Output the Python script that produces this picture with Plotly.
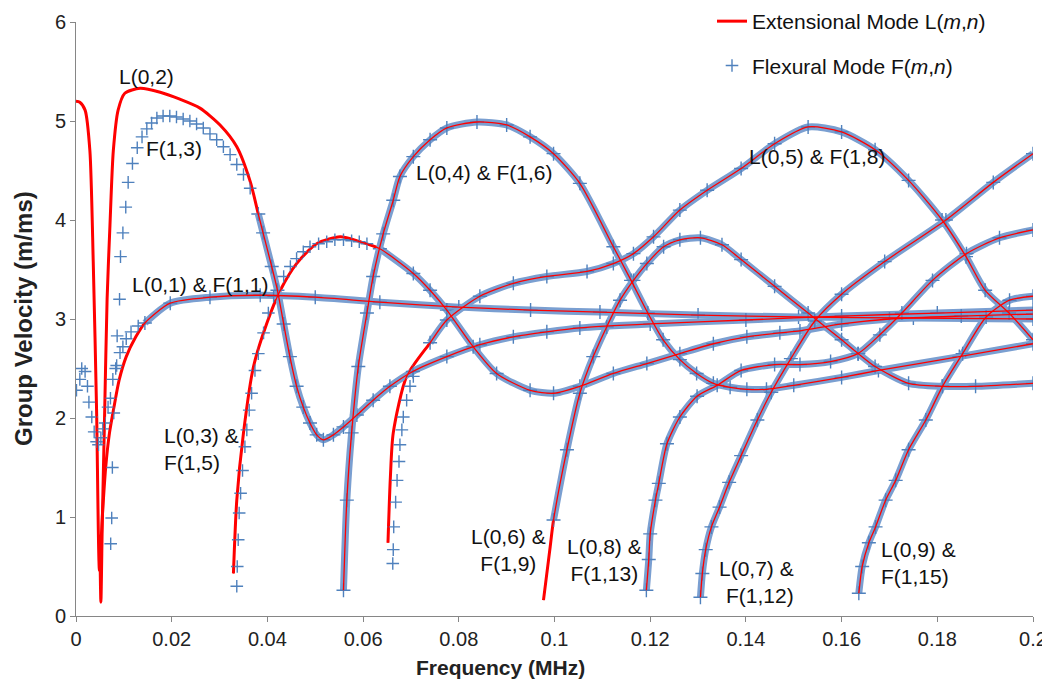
import plotly.graph_objects as go

# ---------------- data: frequency (MHz) vs group velocity (m/ms) ----------------
# Extensional (red) modes
l01_x = [0, 0.0008, 0.0019, 0.0029, 0.0036, 0.0043, 0.0049, 0.0055, 0.0062, 0.0070, 0.0079, 0.0090, 0.0105, 0.0125,
         0.0144, 0.0197, 0.028, 0.0385, 0.05, 0.0635, 0.08, 0.095, 0.1095, 0.13, 0.151, 0.175, 0.2]
l01_y = [5.2, 5.19, 5.11, 4.7, 3.58, 2.08, 0.46, 1.0, 1.5, 1.85, 2.1, 2.38, 2.62, 2.82,
         2.96, 3.16, 3.22, 3.24, 3.22, 3.17, 3.12, 3.09, 3.07, 3.04, 3.02, 3.01, 3.0]

l02_x = [0.0050, 0.0052, 0.0055, 0.0060, 0.0065, 0.0071, 0.0078, 0.0088, 0.0102, 0.0134, 0.0176, 0.0217, 0.0259,
         0.0301, 0.0336, 0.0364, 0.0381, 0.0391, 0.0409, 0.0421, 0.0434, 0.0447, 0.0461, 0.0475, 0.0489, 0.0503,
         0.0517, 0.0538, 0.0559, 0.0587, 0.0621, 0.0656, 0.0704, 0.0775, 0.0844, 0.0914, 0.0984, 0.1053, 0.12,
         0.14, 0.16, 0.18, 0.2]
l02_y = [0.7, 0.14, 0.96, 2.08, 3.2, 3.95, 4.7, 5.11, 5.28, 5.33, 5.29, 5.22, 5.13,
         4.96, 4.74, 4.39, 4.06, 3.87, 3.53, 3.29, 2.95, 2.62, 2.32, 2.11, 1.95, 1.83,
         1.78, 1.83, 1.91, 2.03, 2.18, 2.32, 2.47, 2.62, 2.74, 2.82, 2.87, 2.91, 2.95,
         2.99, 3.03, 3.06, 3.09]

l03_x = [0.0329, 0.0336, 0.035, 0.0371, 0.0399, 0.0427, 0.0461, 0.0503, 0.0552, 0.0594, 0.0635, 0.0705, 0.074,
         0.0775, 0.083, 0.0879, 0.0949, 0.0998, 0.1053, 0.1123, 0.1193, 0.1262, 0.1332, 0.1402, 0.1471, 0.1513,
         0.16, 0.17, 0.185, 0.2]
l03_y = [0.43, 1.17, 1.85, 2.52, 2.96, 3.29, 3.56, 3.76, 3.83, 3.78, 3.71, 3.46, 3.29,
         3.09, 2.72, 2.45, 2.28, 2.25, 2.32, 2.45, 2.55, 2.65, 2.75, 2.82, 2.86, 2.88,
         2.95, 3.0, 3.03, 3.05]

l04_x = [0.0559, 0.0566, 0.0576, 0.059, 0.0608, 0.0621, 0.0642, 0.0663, 0.0677, 0.0705, 0.074, 0.0775, 0.0838,
         0.09, 0.0949, 0.0998, 0.1053, 0.1123, 0.116, 0.1195, 0.1227, 0.1262, 0.1297, 0.1332, 0.1367, 0.1402,
         0.1443, 0.15, 0.16, 0.1677, 0.1846, 0.2]
l04_y = [0.26, 1.17, 1.85, 2.52, 3.06, 3.43, 3.86, 4.2, 4.44, 4.64, 4.81, 4.93, 4.99,
         4.96, 4.84, 4.67, 4.37, 3.73, 3.39, 3.06, 2.79, 2.59, 2.45, 2.35, 2.31, 2.29,
         2.29, 2.33, 2.41, 2.48, 2.62, 2.75]

l05_x = [0.0652, 0.0657, 0.0663, 0.0691, 0.074, 0.0775, 0.0844, 0.0914, 0.0984, 0.1068, 0.1123, 0.1165, 0.1207,
         0.1262, 0.1319, 0.139, 0.146, 0.153, 0.160, 0.167, 0.174, 0.181, 0.186, 0.190, 0.195, 0.2]
l05_y = [0.74, 1.4, 1.85, 2.42, 2.76, 2.99, 3.23, 3.36, 3.43, 3.48, 3.56, 3.66, 3.83,
         4.10, 4.30, 4.52, 4.77, 4.94, 4.89, 4.71, 4.40, 4.0, 3.63, 3.29, 3.06, 2.79]

l06_x = [0.0977, 0.0984, 0.0991, 0.0998, 0.1026, 0.1053, 0.1081, 0.1109, 0.1137, 0.1165, 0.1193, 0.1228, 0.1262,
         0.1305, 0.135, 0.139, 0.146, 0.153, 0.160, 0.1635, 0.167, 0.174, 0.181, 0.188, 0.2]
l06_y = [0.16, 0.43, 0.70, 0.97, 1.68, 2.25, 2.62, 2.92, 3.19, 3.39, 3.56, 3.73, 3.8,
         3.82, 3.75, 3.6, 3.33, 3.06, 2.79, 2.65, 2.52, 2.35, 2.32, 2.32, 2.35]

l07_x = [0.1305, 0.1309, 0.1316, 0.1328, 0.1345, 0.1365, 0.139, 0.1424, 0.1453, 0.1494, 0.1544, 0.160, 0.169,
         0.1818, 0.1917, 0.2]
l07_y = [0.19, 0.43, 0.67, 0.9, 1.1, 1.35, 1.62, 1.98, 2.26, 2.6, 2.98, 3.25, 3.58,
         4.0, 4.38, 4.67]

l08_x = [0.1192, 0.1197, 0.1200, 0.1211, 0.1218, 0.1235, 0.1262, 0.1298, 0.134, 0.139, 0.146, 0.1513, 0.1577,
         0.1634, 0.168, 0.1726, 0.179, 0.1861, 0.193, 0.2]
l08_y = [0.26, 0.57, 0.83, 1.17, 1.34, 1.74, 2.01, 2.22, 2.33, 2.48, 2.54, 2.54, 2.57,
         2.65, 2.84, 3.06, 3.39, 3.66, 3.82, 3.9]

l09_x = [0.1636, 0.1643, 0.1657, 0.1671, 0.1692, 0.1713, 0.174, 0.1776, 0.1811, 0.1853, 0.1902, 0.1951, 0.2]
l09_y = [0.23, 0.50, 0.74, 0.9, 1.17, 1.37, 1.68, 1.98, 2.32, 2.65, 3.02, 3.19, 3.23]

# Flexural (blue) modes: where they separate from the extensional curve
f11_head_x = [0.0001, 0.0008, 0.0012, 0.0019, 0.0024, 0.0027, 0.0033, 0.0038, 0.0043, 0.0047, 0.0052, 0.0056,
              0.0061, 0.0067, 0.0072, 0.0077, 0.0085, 0.0092, 0.0098, 0.0105, 0.0115, 0.013]
f11_head_y = [2.28, 2.39, 2.5, 2.47, 2.32, 2.16, 2.01, 1.86, 1.76, 1.73, 1.80, 1.89,
              1.95, 2.11, 2.2, 2.39, 2.53, 2.66, 2.72, 2.8, 2.87, 2.93]

f13_head_x = [0.00725, 0.00746, 0.0076, 0.0079, 0.0083, 0.0086, 0.0091, 0.0093, 0.0098, 0.0104, 0.0109, 0.0118,
              0.0128, 0.0138, 0.0148, 0.0158, 0.0169, 0.0182, 0.0196, 0.021, 0.0224, 0.0238, 0.0252, 0.0266,
              0.028, 0.0294, 0.0308, 0.0322, 0.0336, 0.035, 0.0364]
f13_head_y = [0.73, 0.99, 1.50, 2.05, 2.5, 2.83, 3.2, 3.63, 3.87, 4.13, 4.38, 4.57,
              4.73, 4.84, 4.92, 4.98, 5.03, 5.05, 5.05, 5.04, 5.02, 5.0, 4.97, 4.93,
              4.87, 4.81, 4.74, 4.66, 4.56, 4.46, 4.32]

f15_head_x = [0.0336, 0.0337, 0.0339, 0.0341, 0.0344, 0.0348, 0.0353, 0.0357, 0.0362, 0.0367, 0.0374, 0.0381,
              0.0392, 0.0402, 0.0413, 0.0434, 0.0448, 0.0461, 0.0475, 0.0489, 0.0507, 0.0524, 0.0541, 0.0559,
              0.0576, 0.0592, 0.0608]
f15_head_y = [0.30, 0.5, 0.77, 1.04, 1.24, 1.47, 1.71, 1.88, 2.08, 2.25, 2.48, 2.65,
              2.86, 3.06, 3.23, 3.43, 3.53, 3.61, 3.68, 3.73, 3.76, 3.78, 3.80, 3.80,
              3.79, 3.78, 3.76]

f18_head_x = [0.0662, 0.0663, 0.0664, 0.0668, 0.0671, 0.0675, 0.0677, 0.0681, 0.0684, 0.0691, 0.0698, 0.0705]
f18_head_y = [0.53, 0.67, 0.90, 1.15, 1.37, 1.56, 1.73, 1.88, 2.01, 2.18, 2.32, 2.42]

# Mode labels
label_text = ["L(0,2)", "F(1,3)", "L(0,1) & F(1,1)", "L(0,3) &<br>F(1,5)", "L(0,4) & F(1,6)",
              "L(0,5) & F(1,8)", "L(0,6) &<br>F(1,9)", "L(0,8) &<br>F(1,13)", "L(0,7) &<br>F(1,12)",
              "L(0,9) &<br>F(1,15)"]
label_x = [0.0148, 0.0204, 0.0261, 0.0180, 0.0853, 0.1549, 0.0903, 0.1104, 0.1505, 0.1678]
label_y = [5.45, 4.72, 3.35, 1.69, 4.48, 4.64, 0.67, 0.57, 0.34, 0.535]
label_anchor = ["center", "center", "center", "left", "center", "center", "center", "center", "right", "left"]

x_ticks = [0, 0.02, 0.04, 0.06, 0.08, 0.1, 0.12, 0.14, 0.16, 0.18, 0.2]
x_tick_text = ["0", "0.02", "0.04", "0.06", "0.08", "0.1", "0.12", "0.14", "0.16", "0.18", "0.2"]
y_ticks = [0, 1, 2, 3, 4, 5, 6]

RED = "#FF0000"
BLUE = "#4F81BD"
BAND = "#7A9FD1"


def tail(xs, ys, x0):
    pts = [(a, b) for a, b in zip(xs, ys) if a >= x0]
    return [p[0] for p in pts], [p[1] for p in pts]


red_curves = [(l01_x, l01_y), (l02_x, l02_y), (l03_x, l03_y), (l04_x, l04_y), (l05_x, l05_y),
              (l06_x, l06_y), (l07_x, l07_y), (l08_x, l08_y), (l09_x, l09_y)]

blue_bands = [tail(l01_x, l01_y, 0.0144), tail(l02_x, l02_y, 0.0381), tail(l03_x, l03_y, 0.0635),
              (l04_x, l04_y), tail(l05_x, l05_y, 0.074), tail(l06_x, l06_y, 0.0998),
              (l07_x, l07_y), (l08_x, l08_y), (l09_x, l09_y)]

blue_heads = [(f11_head_x, f11_head_y), (f13_head_x, f13_head_y), (f15_head_x, f15_head_y),
              (f18_head_x, f18_head_y)]

fig = go.Figure()

# wide red lines (under the blue crosses)
for i, (xs, ys) in enumerate(red_curves):
    fig.add_trace(go.Scatter(
        x=xs, y=ys, mode="lines",
        line=dict(color=RED, width=3, shape="spline", smoothing=0.7),
        name="Extensional Mode L(<i>m</i>,<i>n</i>)", legendgroup="ext",
        showlegend=(i == 0), hoverinfo="skip"))

# blue flexural bands with crosses
for xs, ys in blue_bands:
    fig.add_trace(go.Scatter(
        x=xs, y=ys, mode="lines+markers",
        line=dict(color=BAND, width=7, shape="spline", smoothing=0.7),
        marker=dict(symbol="cross-thin", size=10, color=BLUE, line=dict(color=BLUE, width=1.4)),
        showlegend=False, hoverinfo="skip"))

# blue flexural crosses where they depart from the red curves
for i, (xs, ys) in enumerate(blue_heads):
    fig.add_trace(go.Scatter(
        x=xs, y=ys, mode="markers",
        marker=dict(symbol="cross-thin", size=9, color=BLUE, line=dict(color=BLUE, width=1.4)),
        name="Flexural Mode F(<i>m</i>,<i>n</i>)", legendgroup="flex",
        showlegend=(i == 0), hoverinfo="skip"))

# thin red core on top
for xs, ys in red_curves:
    fig.add_trace(go.Scatter(
        x=xs, y=ys, mode="lines",
        line=dict(color=RED, width=1.3, shape="spline", smoothing=0.7),
        showlegend=False, hoverinfo="skip"))

for t, x, y, a in zip(label_text, label_x, label_y, label_anchor):
    fig.add_annotation(x=x, y=y, xref="x", yref="y", text=t, showarrow=False,
                       xanchor=a, yanchor="middle", align=a,
                       font=dict(family="Liberation Sans, Arial, sans-serif", size=21, color="#111111"))

# The page body adds an 8 px offset; the plot area should sit at page x 76..1033, y 22..616.
FIG_W, FIG_H = 1042, 681
PLOT_W = 957
PLOT_H = 594

fig.add_annotation(x=(500 - 76) / PLOT_W, y=-51 / PLOT_H, xref="paper", yref="paper",
                   text="<b>Frequency (MHz)</b>",
                   showarrow=False, xanchor="center", yanchor="middle",
                   font=dict(family="Liberation Sans Narrow, Arial Narrow, sans-serif", size=21, color="#222222"))
fig.add_annotation(x=(23 - 76) / PLOT_W, y=0.5, xref="paper", yref="paper",
                   text="<b>Group Velocity (m/ms)</b>",
                   showarrow=False, textangle=-90, xanchor="center", yanchor="middle",
                   font=dict(family="Liberation Sans Narrow, Arial Narrow, sans-serif", size=24, color="#222222"))

axis_common = dict(showgrid=False, zeroline=False, showline=True, linecolor="#868686", linewidth=1,
                   ticks="outside", ticklen=5, tickcolor="#868686", automargin=False,
                   tickfont=dict(family="Liberation Sans Narrow, Arial Narrow, sans-serif", size=20, color="#222222"))

fig.update_xaxes(range=[0, 0.2], tickvals=x_ticks, ticktext=x_tick_text, **axis_common)
fig.update_yaxes(range=[0, 6], tickvals=y_ticks, **axis_common)

fig.update_layout(
    width=FIG_W, height=FIG_H,
    margin=dict(l=68, r=17, t=14, b=73, autoexpand=False),
    plot_bgcolor="white", paper_bgcolor="white",
    showlegend=True,
    legend=dict(x=(712 - 76) / PLOT_W, y=1 + 21 / PLOT_H, xanchor="left", yanchor="top",
                bgcolor="rgba(0,0,0,0)",
                traceorder="grouped", tracegroupgap=14,
                font=dict(family="Liberation Sans, Arial, sans-serif", size=21, color="#111111")),
)

fig.write_html("out.html")
